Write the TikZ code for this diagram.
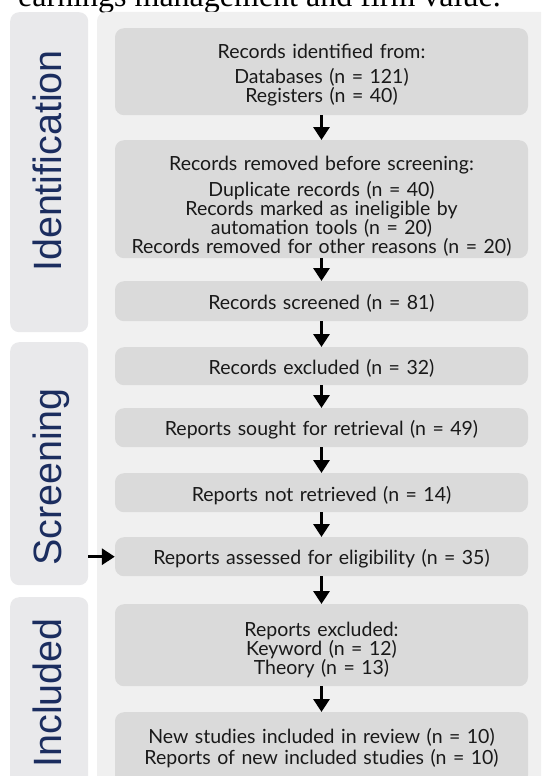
\documentclass[tikz,border=0pt]{standalone}
\usepackage{fontspec}
\setmainfont{Lato}
\newfontfamily\captionserif{Liberation Serif}
\newfontfamily\stagesans{Liberation Sans}
\usetikzlibrary{arrows.meta}
\definecolor{panelgray}{RGB}{240,240,240}
\definecolor{sidegray}{RGB}{233,233,235}
\definecolor{boxgray}{RGB}{218,218,218}
\definecolor{stagenavy}{RGB}{27,45,95}
\definecolor{textdark}{RGB}{25,25,25}

\begin{document}
\begin{tikzpicture}[x=1pt, y=-1pt,
    every node/.style={font=\fontsize{19.5}{18.8}\selectfont},
    stepbox/.style={fill=boxgray, rounded corners=9pt, minimum width=413pt, text width=405pt,
        align=center, inner sep=0pt, anchor=north, text=textdark,
        execute at begin node={\rule{0pt}{#1}}},
    stepbox/.default=20pt,
    sidepanel/.style={fill=sidegray, rounded corners=9pt, minimum width=78pt, inner sep=0pt, anchor=north west},
    stage/.style={rotate=90, anchor=base, text=stagenavy, font=\stagesans\fontsize{39.5}{40}\selectfont},
    flow/.style={line width=3pt, -{Triangle[length=13pt,width=16pt]}}]
    \useasboundingbox (0,0) rectangle (541,776);
    \clip (0,0) rectangle (541,776);
    % caption line cut off at the top
    \node[anchor=base west, inner sep=0pt, font=\captionserif\fontsize{32}{32}\selectfont] (caption) at (18,7) {earnings management and firm value.};
    % background panels
    \fill[panelgray, rounded corners=9pt] (97,12) rectangle (570,810);
    \node[sidepanel, minimum height=320pt] (idpanel) at (10,12) {};
    \node[sidepanel, minimum height=243pt] (scrpanel) at (10,342) {};
    \node[sidepanel, minimum height=220pt] (incpanel) at (10,597) {};
    \node[stage] (idlabel) at (61,161) {Identification};
    \node[stage] (scrlabel) at (61,477) {Screening};
    \node[stage] (inclabel) at (61,693) {Included};
    % flow boxes
    \node[stepbox=21pt, minimum height=87pt] (ident) at (321.5,28)
        {Records identified from:\\[6pt] Databases (n = 121)\\ Registers (n = 40)};
    \node[stepbox=28pt, minimum height=118pt] (removed) at (321.5,140)
        {Records removed before screening:\\[8pt] Duplicate records (n = 40)\\ Records marked as ineligible by\\ automation tools (n = 20)\\ Records removed for other reasons (n = 20)};
    \node[stepbox, minimum height=40pt] (screened) at (321.5,281) {Records screened (n = 81)};
    \node[stepbox, minimum height=38pt] (excluded) at (321.5,347) {Records excluded (n = 32)};
    \node[stepbox, minimum height=39pt] (sought) at (321.5,408) {Reports sought for retrieval (n = 49)};
    \node[stepbox, minimum height=39pt] (notretr) at (321.5,473) {Reports not retrieved (n = 14)};
    \node[stepbox, minimum height=39pt] (assessed) at (321.5,537) {Reports assessed for eligibility (n = 35)};
    \node[stepbox=24pt, minimum height=82pt] (repexcl) at (321.5,604)
        {Reports excluded:\\ Keyword (n = 12)\\ Theory (n = 13)};
    \node[stepbox=14pt, minimum height=72pt] (included) at (321.5,712)
        {New studies included in review (n = 10)\\[2.5pt] Reports of new included studies (n = 10)};
    % arrows
    \draw[flow] (ident) -- (removed);
    \draw[flow] (removed) -- (screened);
    \draw[flow] (screened) -- (excluded);
    \draw[flow] (excluded) -- (sought);
    \draw[flow] (sought) -- (notretr);
    \draw[flow] (notretr) -- (assessed);
    \draw[flow] (assessed) -- (repexcl);
    \draw[flow] (repexcl) -- (included);
    \draw[flow] (scrpanel.east |- assessed.west) -- (assessed.west);
\end{tikzpicture}
\end{document}
